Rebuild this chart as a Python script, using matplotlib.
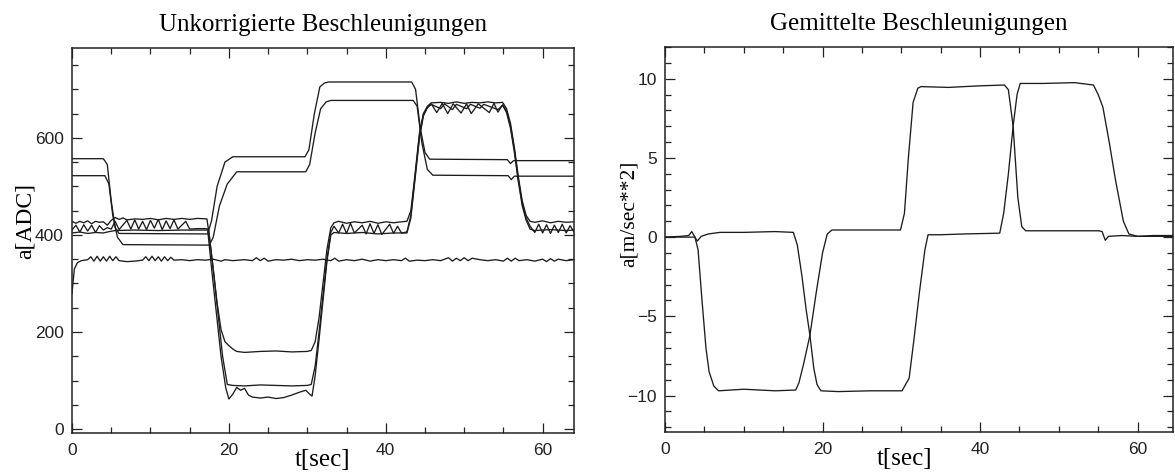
import numpy as np
import matplotlib
matplotlib.use("Agg")
import matplotlib.pyplot as plt
from matplotlib.ticker import MultipleLocator

# --- left panel: raw ADC readings (six channels) ---
t_c1 = [0, 4.0, 4.5, 5.0, 5.5, 6.0, 17.3, 17.8, 18.5, 19.5, 20.5, 29.7, 30.2, 30.9, 31.6, 32.2, 32.7,
        43.3, 43.8, 44.4, 45.0, 45.6, 55.5, 55.9, 56.3, 64]
v_c1 = [557, 557, 545, 470, 415, 403, 402, 430, 500, 550, 561, 561, 575, 650, 705, 713, 715,
        715, 700, 620, 570, 556, 555, 547, 553, 553]

t_c2 = [0, 4.2, 4.7, 5.2, 5.8, 6.5, 17.5, 18.0, 18.8, 19.8, 21.0, 29.8, 30.3, 31.0, 31.7, 32.4, 33.0,
        43.5, 44.0, 44.6, 45.3, 46.0, 55.6, 56.0, 56.4, 64]
v_c2 = [522, 522, 505, 440, 395, 380, 379, 395, 460, 505, 530, 530, 545, 610, 660, 674, 677,
        677, 665, 590, 535, 523, 522, 514, 521, 521]

t_c3 = [0, 0.5, 1.0, 1.5, 2.0, 2.5, 3.0, 3.5, 4.0, 4.5, 5.0, 5.5, 6.0, 6.5, 7.0, 8.0, 9.0, 10.0,
        11.0, 12.0, 13.0, 14.0, 15.0, 16.0, 17.2, 17.5, 18.0, 18.5, 19.0, 19.5, 20.0, 20.5, 21.0,
        22.0, 24.0, 26.0, 28.0, 30.0, 30.5, 31.0, 31.5, 32.0, 32.5, 33.0, 33.4, 34.0, 35.0, 36.0,
        37.0, 38.0, 39.0, 40.0, 41.0, 42.0, 42.7, 43.2, 43.7, 44.3, 44.8, 45.3, 45.8, 47.0, 48.0,
        49.0, 50.0, 51.0, 52.0, 53.0, 54.0, 54.9, 55.4, 55.9, 56.4, 56.9, 57.4, 57.9, 58.4, 59.0,
        60.0, 61.0, 62.0, 63.0, 64.0]
v_c3 = [428, 424, 428, 425, 429, 423, 428, 426, 427, 420, 430, 436, 432, 435, 431, 433, 432, 434,
        431, 434, 432, 434, 432, 434, 433, 400, 330, 260, 205, 180, 172, 165, 160,
        158, 160, 161, 159, 160, 162, 180, 230, 300, 370, 415, 425, 428, 424, 427,
        425, 428, 424, 427, 425, 427, 428, 450, 520, 610, 650, 665, 672, 673, 671,
        674, 671, 673, 672, 674, 672, 673, 660, 630, 580, 520, 470, 440, 428, 426,
        429, 425, 428, 426, 427]

t_c4 = [0, 0.5, 1.0, 1.5, 2.0, 2.5, 3.0, 3.5, 4.0, 4.5, 5.0, 5.5, 6.0, 7.0, 7.5, 8.0, 8.5, 9.0,
        9.5, 10.0, 10.5, 11.0, 11.5, 12.0, 12.5, 13.0, 13.5, 14.5, 15.0, 16.0, 17.0, 17.4, 18.0,
        18.6, 19.2, 19.8, 20.5, 22.0, 24.0, 26.0, 28.0, 30.0, 30.5, 31.0, 31.5, 32.0, 32.5, 33.0,
        33.4, 34.0, 34.5, 35.0, 35.5, 36.0, 37.0, 37.5, 38.0, 38.5, 39.0, 39.5, 40.5, 41.0, 41.5,
        42.0, 42.7, 43.2, 43.7, 44.3, 44.8, 45.3, 45.8, 46.5, 47.2, 47.9, 48.6, 49.6, 50.3, 50.9,
        51.8, 53.2, 53.8, 54.3, 54.9, 55.4, 55.9, 56.4, 56.9, 57.4, 57.9, 58.4, 59.0, 59.5, 60.0,
        60.5, 61.0, 61.5, 62.0, 62.5, 63.0, 63.5, 64.0]
v_c4 = [410, 420, 406, 421, 408, 420, 405, 419, 410, 415, 412, 428, 411, 430, 412, 431, 412, 428,
        411, 430, 414, 432, 411, 429, 413, 431, 412, 428, 412, 413, 413, 412, 330,
        240, 150, 92, 90, 89, 91, 90, 89, 90, 92, 130, 200, 275, 350, 405,
        418, 404, 422, 403, 424, 404, 420, 402, 423, 403, 421, 401, 422, 403, 418,
        404, 406, 440, 515, 605, 648, 662, 670, 652, 671, 650, 670, 651, 670, 650,
        670, 652, 671, 653, 668, 655, 625, 575, 515, 465, 435, 418, 405, 422, 404,
        421, 403, 420, 405, 422, 404, 419, 406]

t_c5 = [0, 1.0, 2.0, 3.0, 4.0, 4.5, 5.5, 8.0, 11.0, 14.0, 17.3, 17.8, 18.4, 19.0, 19.6, 20.0, 20.5,
        21.0, 21.5, 22.0, 22.5, 23.0, 24.0, 25.0, 26.0, 27.0, 28.0, 29.0, 29.8, 30.3, 30.6, 31.0,
        31.5, 32.0, 32.5, 33.0, 33.4, 35.0, 37.0, 39.0, 41.0, 42.7, 43.2, 43.7, 44.3, 44.8, 45.3,
        45.8, 47.0, 47.5, 48.5, 49.0, 50.3, 50.8, 52.0, 52.5, 54.3, 54.9, 55.4, 55.9, 56.4, 56.9,
        57.4, 57.9, 58.4, 59.0, 61.0, 63.0, 64.0]
v_c5 = [404, 406, 403, 405, 404, 406, 409, 410, 409, 410, 410, 330, 240, 150, 85, 62, 72,
        86, 80, 84, 70, 66, 64, 66, 63, 65, 70, 76, 80, 72, 68, 110,
        185, 265, 345, 400, 405, 403, 405, 402, 404, 404, 435, 510, 600, 645, 662,
        669, 660, 670, 658, 669, 660, 669, 661, 669, 658, 667, 652, 620, 570, 510,
        460, 430, 412, 409, 411, 409, 410]

t_c6 = [0, 0.3, 0.7, 1.2, 2.0, 2.4, 2.8, 3.2, 3.6, 4.0, 4.4, 4.8, 5.2, 5.6, 6.0, 7.0, 8.0, 9.0,
        9.4, 9.8, 10.2, 10.6, 11.0, 11.4, 11.8, 12.2, 12.6, 13.0, 14.0, 15.0, 16.0, 17.0, 18.0,
        19.0, 19.5, 20.5, 22.0, 23.0, 23.5, 24.0, 24.5, 25.0, 26.0, 27.0, 28.0, 29.0, 30.0, 31.0,
        32.0, 33.0, 33.5, 34.0, 35.0, 36.0, 37.0, 38.0, 39.0, 40.0, 41.0, 42.0, 42.5, 43.0, 44.0,
        45.0, 46.0, 47.0, 48.0, 48.5, 49.0, 49.5, 50.0, 50.5, 51.0, 52.0, 53.0, 54.0, 55.0, 55.5,
        56.0, 56.5, 57.0, 58.0, 59.0, 60.0, 60.5, 61.0, 61.5, 62.0, 63.0, 64.0]
v_c6 = [280, 330, 343, 347, 349, 355, 346, 356, 346, 355, 346, 356, 347, 355, 347, 345, 346, 348,
        355, 347, 356, 347, 355, 346, 355, 347, 354, 348, 349, 347, 349, 348, 350,
        346, 349, 347, 349, 347, 353, 347, 352, 346, 349, 348, 350, 347, 349, 348,
        350, 347, 352, 346, 349, 347, 350, 346, 349, 347, 349, 347, 352, 346, 348,
        347, 349, 347, 353, 346, 352, 347, 353, 347, 352, 349, 347, 349, 346, 352,
        346, 352, 347, 349, 346, 350, 345, 351, 346, 350, 347, 349]

# --- right panel: averaged accelerations in m/s^2 ---
t_r1 = [0, 3.8, 4.2, 4.7, 5.2, 5.6, 6.2, 6.8, 10, 14, 16.6, 17.0, 17.6, 18.4, 19.2, 20.0, 20.6,
        21.2, 25, 29.9, 30.4, 30.9, 31.5, 32.1, 32.5, 36, 40, 43.1, 43.6, 44.2, 44.8, 45.3, 45.8,
        50, 55.1, 55.5, 55.9, 56.3, 58, 60, 62, 65]
v_r1 = [0, 0, -0.8, -4.0, -7.0, -8.5, -9.4, -9.7, -9.6, -9.7, -9.65, -9.2, -8.0, -6.2, -3.5, -1.0, 0.2,
        0.45, 0.45, 0.45, 1.5, 5.0, 8.5, 9.4, 9.5, 9.45, 9.55, 9.6, 9.3, 7.0, 2.5, 0.65, 0.4,
        0.4, 0.4, 0.35, -0.2, 0.05, 0.1, 0.05, 0.1, 0.1]

t_r2 = [0, 2.0, 3.0, 3.4, 3.8, 4.1, 4.6, 5.5, 7, 10, 14, 16.3, 16.8, 17.4, 17.9, 18.4, 18.9, 19.3,
        19.8, 22, 26, 30.1, 31.0, 31.6, 32.3, 33.0, 33.4, 35, 38, 42.5, 43.0, 43.6, 44.2, 44.7,
        45.1, 48, 52, 54.4, 55.0, 55.6, 56.4, 57.2, 58.2, 58.9, 60, 65]
v_r2 = [0, 0.05, 0.1, 0.35, 0.0, -0.25, 0.05, 0.2, 0.3, 0.3, 0.35, 0.3, -0.5, -2.5, -4.5, -6.2, -8.3, -9.3,
        -9.7, -9.75, -9.7, -9.7, -8.9, -6.5, -3.5, -0.8, 0.15, 0.15, 0.2, 0.25, 1.5, 4.0, 7.0, 9.0,
        9.7, 9.7, 9.75, 9.6, 9.0, 8.2, 6.0, 3.6, 1.0, 0.2, 0.05, 0.05]

left_curves = [(t_c1, v_c1), (t_c2, v_c2), (t_c3, v_c3), (t_c4, v_c4), (t_c5, v_c5), (t_c6, v_c6)]
right_curves = [(t_r1, v_r1), (t_r2, v_r2)]

serif = ["Liberation Serif", "DejaVu Serif"]
plt.rcParams["font.family"] = ["Liberation Sans", "DejaVu Sans"]

fig = plt.figure(figsize=(11.75, 4.76), dpi=100)
ax1 = fig.add_axes([72 / 1175, 1 - 433 / 476, 502 / 1175, 385 / 476])
ax2 = fig.add_axes([665 / 1175, 1 - 432 / 476, 508 / 1175, 385 / 476])

line_kw = dict(color="#1c1c1c", lw=0.95)
for t, v in left_curves:
    ax1.plot(t, v, **line_kw)
for t, v in right_curves:
    ax2.plot(t, v, **line_kw)


def style(ax, xmax, ylim, major_y, minor_y):
    ax.set_xlim(0, xmax)
    ax.set_ylim(*ylim)
    ax.xaxis.set_major_locator(MultipleLocator(20))
    ax.xaxis.set_minor_locator(MultipleLocator(5))
    ax.yaxis.set_major_locator(MultipleLocator(major_y))
    ax.yaxis.set_minor_locator(MultipleLocator(minor_y))
    ax.tick_params(which="both", direction="in", top=True, right=True, width=0.9, color="#222222")
    ax.tick_params(which="major", length=7, labelsize=12.5, labelcolor="#222222")
    ax.tick_params(which="minor", length=4)
    ax.tick_params(axis="x", which="major", pad=7)
    ax.tick_params(axis="y", which="major", pad=6)
    for s in ax.spines.values():
        s.set_linewidth(1.1)
        s.set_color("#222222")


style(ax1, 64, (-8, 785), 200, 50)
style(ax2, 64.5, (-12.3, 12.0), 5, 1)

ax1.set_title("Unkorrigierte Beschleunigungen", family=serif, fontsize=18, pad=12)
ax2.set_title("Gemittelte Beschleunigungen", family=serif, fontsize=18, pad=12)

ax1.set_xlabel("t[sec]", family=serif, fontsize=18)
ax2.set_xlabel("t[sec]", family=serif, fontsize=18)
ax1.xaxis.set_label_coords(0.5, -0.042)
ax2.xaxis.set_label_coords(0.472, -0.042)

ax1.set_ylabel("a[ADC]", family=serif, fontsize=17)
ax2.set_ylabel("a[m/sec**2]", family=serif, fontsize=15.5)
ax1.yaxis.set_label_coords(-0.072, 0.551)
ax2.yaxis.set_label_coords(-0.051, 0.566)

fig.savefig("out.png", dpi=100)
